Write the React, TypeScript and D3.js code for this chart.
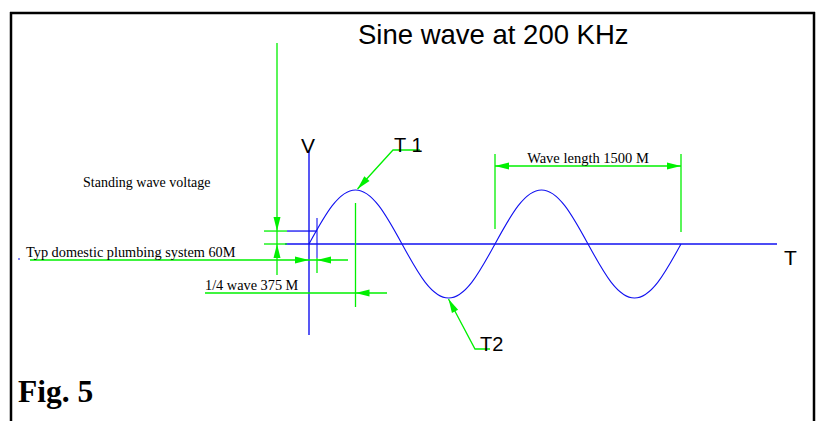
import React from "react";
import * as d3 from "d3";

// Wave samples (phase in cycles, relative amplitude)
const wavePhase = [0, 0.125, 0.25, 0.375, 0.5, 0.625, 0.75, 0.875, 1, 1.125, 1.25, 1.375, 1.5, 1.625, 1.75, 1.875, 2];
const waveValue = [0, 0.71, 1, 0.71, 0, -0.71, -1, -0.71, 0, 0.71, 1, 0.71, 0, -0.71, -1, -0.71, 0];

// Annotation anchors (in phase units)
const quarterWave = 0.25;
const plumbingPhase = 0.043;
const wavelengthStart = 1;
const wavelengthEnd = 2;
const standingValue = 0.24;

// Texts
const titleText = "Sine wave at 200 KHz";
const axisLabels = ["V", "T"];
const pointLabels = ["T 1", "T2"];
const noteTexts = ["Standing wave voltage", "Typ domestic plumbing system 60M", "1/4 wave 375 M", "Wave length 1500 M"];
const figText = "Fig. 5";

const GREEN = "#00f000";
const BLUE = "#1010f0";

function Arrow({ tx, ty, fx, fy }: { tx: number; ty: number; fx: number; fy: number }) {
  // tip at (tx,ty), pointing away from (fx,fy)
  const dx = fx - tx;
  const dy = fy - ty;
  const len = Math.hypot(dx, dy) || 1;
  const ux = dx / len;
  const uy = dy / len;
  const L = 14;
  const W = 3.5;
  const bx = tx + ux * L;
  const by = ty + uy * L;
  const pts = [
    [tx, ty],
    [bx - uy * W, by + ux * W],
    [bx + uy * W, by - ux * W],
  ];
  return <polygon points={pts.map((p) => p.join(",")).join(" ")} fill={GREEN} />;
}

export default function App() {
  const x = d3.scaleLinear().domain([0, 2]).range([309, 681]);
  const y = d3.scaleLinear().domain([-1, 1]).range([298, 190]);
  const line = d3
    .line<number>()
    .x((_, i) => x(wavePhase[i]))
    .y((d) => y(d))
    .curve(d3.curveNatural);

  const x0 = x(0);
  const y0 = y(0);
  const xp = x(plumbingPhase);
  const ys = y(standingValue);
  const xq = x(quarterWave);
  const xw1 = x(wavelengthStart);
  const xw2 = x(wavelengthEnd);
  const peakX = x(0.25);
  const peakY = y(1);
  const troughX = x(0.75);
  const troughY = y(-1);

  const serif = "'Liberation Serif', 'Times New Roman', serif";
  const sans = "'Liberation Sans', Arial, sans-serif";

  return (
    <div style={{ position: "fixed", left: 0, top: 0 }}>
      <svg width={819} height={421} style={{ display: "block", background: "#fff" }}>
        {/* frame */}
        <g stroke="#000" strokeWidth={2.5} fill="none">
          <line x1={10} y1={13} x2={815} y2={13} />
          <line x1={11} y1={12} x2={11} y2={421} />
          <line x1={814} y1={12} x2={814} y2={421} />
        </g>

        <text x={358} y={44} fontFamily={sans} fontSize={27.5} fill="#000">{titleText}</text>

        {/* axes */}
        <line x1={285} y1={y0} x2={777} y2={y0} stroke={BLUE} strokeWidth={1.4} />
        <line x1={x0} y1={150} x2={x0} y2={335} stroke={BLUE} strokeWidth={1.4} />
        <text x={301} y={153} fontFamily={sans} fontSize={21}>{axisLabels[0]}</text>
        <text x={784} y={265} fontFamily={sans} fontSize={21}>{axisLabels[1]}</text>

        {/* wave */}
        <path d={line(waveValue) || ""} fill="none" stroke={BLUE} strokeWidth={1.1} />

        {/* dimensions */}
        <g stroke={GREEN} strokeWidth={1.3}>
          <line x1={277} y1={43} x2={277} y2={275} />
          <line x1={264} y1={ys} x2={287} y2={ys} />
          <line x1={264} y1={y0} x2={287} y2={y0} />
          <line x1={xp} y1={258} x2={xp} y2={273} />
          <line x1={30} y1={260} x2={348} y2={260} />
          <line x1={205} y1={293} x2={387} y2={293} />
          <line x1={xq} y1={203} x2={xq} y2={307} />
          <line x1={xw1} y1={154} x2={xw1} y2={229} />
          <line x1={xw2} y1={154} x2={xw2} y2={232} />
          <line x1={xw1} y1={166} x2={xw2} y2={166} />
          <polyline points={`420,150 393,150 ${peakX + 2},${peakY - 1}`} fill="none" />
          <polyline points={`490,349 475,349 ${troughX},${troughY + 1}`} fill="none" />
        </g>
        <line x1={287} y1={ys} x2={xp} y2={ys} stroke={BLUE} strokeWidth={1.3} />
        <line x1={xp} y1={218} x2={xp} y2={258} stroke={BLUE} strokeOpacity={0.55} strokeWidth={2} />
        <line x1={18} y1={259} x2={20} y2={259} stroke={BLUE} strokeWidth={1.2} />

        <Arrow tx={277} ty={ys} fx={277} fy={ys - 20} />
        <Arrow tx={277} ty={y0} fx={277} fy={y0 + 20} />
        <Arrow tx={x0} ty={260} fx={x0 - 20} fy={260} />
        <Arrow tx={xp} ty={260} fx={xp + 20} fy={260} />
        <Arrow tx={xq} ty={293} fx={xq + 20} fy={293} />
        <Arrow tx={xw1} ty={166} fx={xw1 + 20} fy={166} />
        <Arrow tx={xw2} ty={166} fx={xw2 - 20} fy={166} />
        <Arrow tx={peakX + 2} ty={peakY - 1} fx={393} fy={150} />
        <Arrow tx={troughX} ty={troughY + 1} fx={475} fy={349} />

        <text x={394} y={152} fontFamily={sans} fontSize={20}>{pointLabels[0]}</text>
        <text x={480} y={351} fontFamily={sans} fontSize={20}>{pointLabels[1]}</text>

        <g fontFamily={serif} fill="#000">
          <text x={83} y={187} fontSize={14}>{noteTexts[0]}</text>
          <text x={26} y={257} fontSize={14.3}>{noteTexts[1]}</text>
          <text x={205} y={290} fontSize={14.3}>{noteTexts[2]}</text>
          <text x={(xw1 + xw2) / 2} y={163} fontSize={14.5} textAnchor="middle">{noteTexts[3]}</text>
          <text x={18} y={402} fontSize={31.5} fontWeight="bold">{figText}</text>
        </g>
      </svg>
    </div>
  );
}
